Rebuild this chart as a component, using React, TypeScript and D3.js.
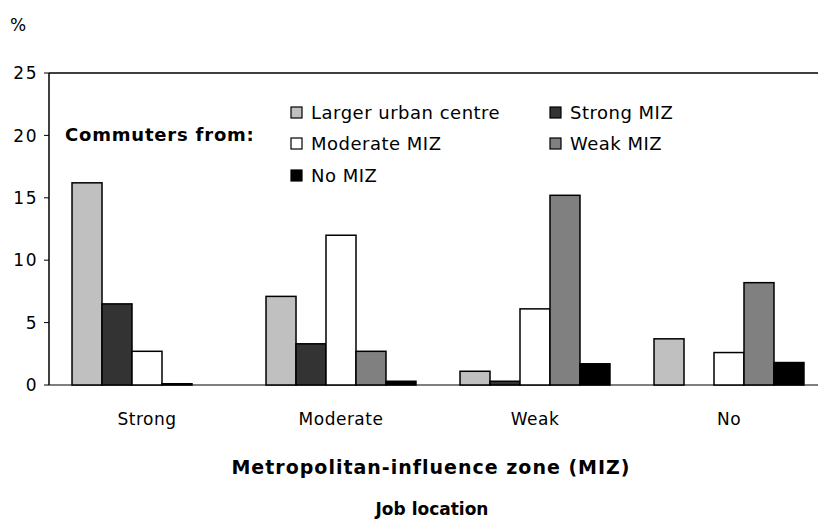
import React from "react";
import * as d3 from "d3";

const categories = ["Strong", "Moderate", "Weak", "No"];
const seriesNames = ["Larger urban centre", "Strong MIZ", "Moderate MIZ", "Weak MIZ", "No MIZ"];
const largerUrban = [16.2, 7.1, 1.1, 3.7];
const strongMIZ = [6.5, 3.3, 0.3, 0];
const moderateMIZ = [2.7, 12.0, 6.1, 2.6];
const weakMIZ = [0.1, 2.7, 15.2, 8.2];
const noMIZ = [0, 0.3, 1.7, 1.8];
const yTicks = [0, 5, 10, 15, 20, 25];

const seriesValues = [largerUrban, strongMIZ, moderateMIZ, weakMIZ, noMIZ];
const colors = ["#c0c0c0", "#333333", "#ffffff", "#808080", "#000000"];

const W = 818, H = 522;
const left = 49, right = 826, top = 73, bottom = 385;
const font = "'DejaVu Sans', sans-serif";

export default function App() {
  const x0 = d3.scaleBand<string>().domain(categories).range([left + 1, right]).paddingInner(0.227).paddingOuter(0.1135);
  const x1 = d3.scaleBand<number>().domain(d3.range(seriesNames.length)).range([0, x0.bandwidth()]);
  const y = d3.scaleLinear().domain([0, 25]).range([bottom, top]);

  const legendItems = [
    { i: 0, x: 291, y: 113 },
    { i: 1, x: 550, y: 113 },
    { i: 2, x: 291, y: 144 },
    { i: 3, x: 550, y: 144 },
    { i: 4, x: 291, y: 176 },
  ];

  return (
    <svg width={W} height={H} style={{ position: "absolute", left: 0, top: 0, background: "#fff" }}>
      <text x={10} y={31} fontFamily={font} fontSize={17} fill="#000">%</text>
      <line x1={left} x2={right} y1={top} y2={top} stroke="#000" strokeWidth={1.5} />
      <line x1={left} x2={right} y1={bottom} y2={bottom} stroke="#555" strokeWidth={1.5} />
      {categories.map((c, ci) => (
        <g key={c}>
          {seriesValues.map((vals, si) =>
            vals[ci] > 0 ? (
              <rect
                key={si}
                x={(x0(c) as number) + (x1(si) as number)}
                y={y(vals[ci])}
                width={x1.bandwidth()}
                height={bottom - y(vals[ci])}
                fill={colors[si]}
                stroke="#000"
                strokeWidth={1.5}
              />
            ) : null
          )}
        </g>
      ))}
      <line x1={left} x2={left} y1={top} y2={bottom} stroke="#000" strokeWidth={1.5} />
      {yTicks.map((t) => (
        <g key={t}>
          <line x1={left - 5} x2={left} y1={y(t)} y2={y(t)} stroke="#000" strokeWidth={1} />
          <text x={38} y={y(t)} dy="0.36em" textAnchor="end" fontFamily={font} fontSize={17} letterSpacing={1.5} fill="#000">{t}</text>
        </g>
      ))}
      {categories.map((c) => (
        <text key={c} x={(x0(c) as number) + x0.bandwidth() / 2} y={425} textAnchor="middle" fontFamily={font} fontSize={17} letterSpacing={0.5} fill="#000">{c}</text>
      ))}
      <text x={65} y={141} fontFamily={font} fontSize={18} fontWeight="bold" letterSpacing={0.8} fill="#000">Commuters from:</text>
      {legendItems.map((it) => (
        <g key={it.i}>
          <rect x={it.x} y={it.y - 6} width={11} height={11} fill={colors[it.i]} stroke="#000" strokeWidth={1.2} />
          <text x={it.x + 20} y={it.y} dy="0.36em" fontFamily={font} fontSize={18} letterSpacing={0.5} fill="#000">{seriesNames[it.i]}</text>
        </g>
      ))}
      <text x={431} y={474} textAnchor="middle" fontFamily={font} fontSize={19} fontWeight="bold" letterSpacing={1} fill="#000">Metropolitan-influence zone (MIZ)</text>
      <text x={432} y={515} textAnchor="middle" fontFamily={font} fontSize={17} fontWeight="bold" fill="#000">Job location</text>
    </svg>
  );
}
